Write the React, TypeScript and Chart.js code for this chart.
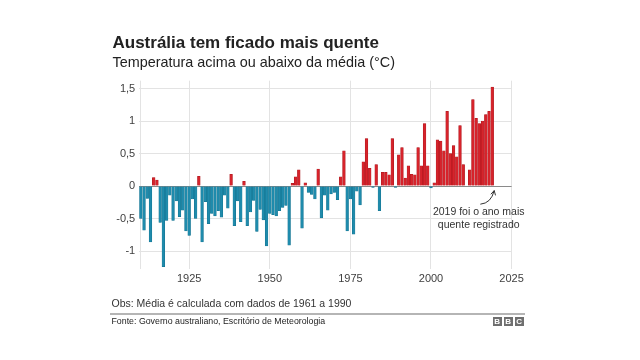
import React, { useEffect, useRef } from "react";
import { Chart, registerables } from "chart.js";

Chart.register(...registerables);

// ---------- data ----------
const FIRST_YEAR = 1910;
// Annual temperature anomaly (°C), 1910 … 2019
const anomalies: number[] = [
  -0.5, -0.68, -0.19, -0.86, 0.13, 0.09, -0.56, -1.24, -0.53, -0.14,
  -0.53, -0.23, -0.47, -0.37, -0.69, -0.76, -0.2, -0.5, 0.15, -0.86,
  -0.24, -0.58, -0.42, -0.46, -0.38, -0.48, -0.14, -0.34, 0.18, -0.61,
  -0.23, -0.55, 0.07, -0.61, -0.4, -0.22, -0.7, -0.36, -0.52, -0.92,
  -0.42, -0.44, -0.46, -0.38, -0.33, -0.3, -0.91, 0.04, 0.14, 0.25,
  -0.65, 0.05, -0.1, -0.13, -0.2, 0.26, -0.49, -0.14, -0.37, -0.12,
  -0.1, -0.21, 0.14, 0.54, -0.69, -0.2, -0.74, -0.08, -0.29, 0.37,
  0.73, 0.27, -0.02, 0.33, -0.38, 0.21, 0.21, 0.17, 0.73, -0.02,
  0.48, 0.59, 0.12, 0.31, 0.18, 0.17, 0.59, 0.31, 0.96, 0.31,
  -0.03, 0.05, 0.71, 0.69, 0.54, 1.15, 0.5, 0.62, 0.45, 0.93,
  0.33, 0, 0.25, 1.33, 1.04, 0.96, 1.0, 1.1, 1.15, 1.52,
];
const years: number[] = anomalies.map((_, i) => FIRST_YEAR + i);

const xTickValues = [1910, 1925, 1950, 1975, 2000, 2025];
const yTickValues = [-1, -0.5, 0, 0.5, 1, 1.5];

const titleText = "Austrália tem ficado mais quente";
const subtitleText = "Temperatura acima ou abaixo da média (°C)";
const noteLines = ["2019 foi o ano mais", "quente registrado"];
const footnoteText = "Obs: Média é calculada com dados de 1961 a 1990";
const sourceText = "Fonte: Governo australiano, Escritório de Meteorologia";

// annotation anchors in data units
const noteAt = { year: 2014.8, value: -0.4 };
const arrowFrom = { year: 2015.3, value: -0.28 };
const arrowTo = { year: 2019.6, value: -0.07 };

// ---------- styles ----------
const FONT = '"Liberation Sans", Arial, Helvetica, sans-serif';
const RED = "#d6232b";
const RED_EDGE = "#a8161c";
const BLUE = "#1f8bac";
const BLUE_EDGE = "#12708c";
const GRID = "#e3e3e3";
const ZERO = "#8a8a8a";
const TICK = "#404040";

const notePlugin = {
  id: "note2019",
  afterDatasetsDraw(chart: any) {
    const { ctx, scales } = chart;
    const x = scales.x;
    const y = scales.y;
    ctx.save();
    ctx.font = `10.5px ${FONT}`;
    ctx.fillStyle = "#333333";
    ctx.textAlign = "center";
    ctx.textBaseline = "middle";
    const cx = x.getPixelForValue(noteAt.year);
    const cy = y.getPixelForValue(noteAt.value);
    noteLines.forEach((l, i) => ctx.fillText(l, cx, cy + i * 13));

    const x0 = x.getPixelForValue(arrowFrom.year);
    const y0 = y.getPixelForValue(arrowFrom.value);
    const x1 = x.getPixelForValue(arrowTo.year);
    const y1 = y.getPixelForValue(arrowTo.value);
    const cpx = x1 - 3;
    const cpy = y0 - 1;
    ctx.strokeStyle = "#333333";
    ctx.lineWidth = 1;
    ctx.beginPath();
    ctx.moveTo(x0, y0);
    ctx.quadraticCurveTo(cpx, cpy, x1, y1);
    ctx.stroke();
    const ang = Math.atan2(y1 - cpy, x1 - cpx);
    const len = 5;
    ctx.beginPath();
    ctx.moveTo(x1 - len * Math.cos(ang - 0.5), y1 - len * Math.sin(ang - 0.5));
    ctx.lineTo(x1, y1);
    ctx.lineTo(x1 - len * Math.cos(ang + 0.5), y1 - len * Math.sin(ang + 0.5));
    ctx.stroke();
    ctx.restore();
  },
};

export default function App() {
  const ref = useRef<HTMLCanvasElement>(null);

  useEffect(() => {
    if (!ref.current) return;
    const chart = new Chart(ref.current, {
      type: "bar",
      data: {
        datasets: [
          {
            data: years.map((yr, i) => ({ x: yr, y: anomalies[i] })),
            backgroundColor: anomalies.map((v) => (v >= 0 ? RED : BLUE)),
            borderColor: anomalies.map((v) => (v >= 0 ? RED_EDGE : BLUE_EDGE)),
            borderWidth: 0.5,
            barThickness: 2.7,
          } as any,
        ],
      },
      options: {
        responsive: false,
        animation: false,
        events: [],
        layout: { padding: { top: 80.7, right: 128.4, left: 0, bottom: 0 } },
        plugins: { legend: { display: false }, tooltip: { enabled: false } },
        scales: {
          x: {
            type: "linear",
            min: 1909.5,
            max: 2025,
            offset: false,
            afterBuildTicks: (s: any) => {
              s.ticks = xTickValues.map((value) => ({ value }));
            },
            afterFit: (s: any) => {
              s.height = 90.8;
            },
            grid: { color: GRID, drawTicks: false, offset: false, lineWidth: 1 },
            border: { display: false },
            ticks: {
              padding: 3,
              autoSkip: false,
              maxRotation: 0,
              color: TICK,
              font: { size: 11, family: FONT },
              callback: (v: any) => (v === xTickValues[0] ? "" : String(v)),
            },
          },
          y: {
            type: "linear",
            min: -1.28,
            max: 1.62,
            afterBuildTicks: (s: any) => {
              s.ticks = yTickValues.map((value) => ({ value }));
            },
            afterFit: (s: any) => {
              s.width = 139.2;
            },
            grid: {
              color: (c: any) => (c.tick && c.tick.value === 0 ? ZERO : GRID),
              drawTicks: false,
              lineWidth: 1,
            },
            border: { display: false },
            ticks: {
              padding: 4,
              color: TICK,
              font: { size: 11, family: FONT },
              callback: (v: any) => String(v).replace(".", ","),
            },
          },
        },
      } as any,
      plugins: [notePlugin],
    });
    return () => chart.destroy();
  }, []);

  const abs = (o: React.CSSProperties): React.CSSProperties => ({
    position: "absolute",
    whiteSpace: "nowrap",
    lineHeight: 1,
    fontFamily: FONT,
    ...o,
  });

  return (
    <div
      style={{
        position: "absolute",
        left: 0,
        top: 0,
        width: 640,
        height: 360,
        background: "#ffffff",
        overflow: "hidden",
      }}
    >
      <canvas
        ref={ref}
        width={640}
        height={360}
        style={{ position: "absolute", left: 0, top: 0, width: 640, height: 360 }}
      />
      <div style={abs({ left: 112.5, top: 33.6, fontSize: 17, fontWeight: 700, color: "#222222" })}>
        {titleText}
      </div>
      <div style={abs({ left: 112.5, top: 55.3, fontSize: 14.4, color: "#222222" })}>
        {subtitleText}
      </div>
      <div style={abs({ left: 111.5, top: 298.4, fontSize: 10.5, color: "#333333" })}>
        {footnoteText}
      </div>
      <div
        style={{
          position: "absolute",
          left: 110,
          top: 312.5,
          width: 415,
          height: 2,
          background: "#b5b5b5",
        }}
      />
      <div style={abs({ left: 111.5, top: 316.5, fontSize: 8.8, color: "#222222" })}>
        {sourceText}
      </div>
      <div style={abs({ left: 492.5, top: 316.5, display: "flex", gap: 1.5 })}>
        {["B", "B", "C"].map((l, i) => (
          <div
            key={i}
            style={{
              width: 9.5,
              height: 9,
              background: "#6f6f6f",
              color: "#ffffff",
              fontSize: 8,
              fontWeight: 700,
              lineHeight: "9px",
              textAlign: "center",
              fontFamily: FONT,
            }}
          >
            {l}
          </div>
        ))}
      </div>
    </div>
  );
}
